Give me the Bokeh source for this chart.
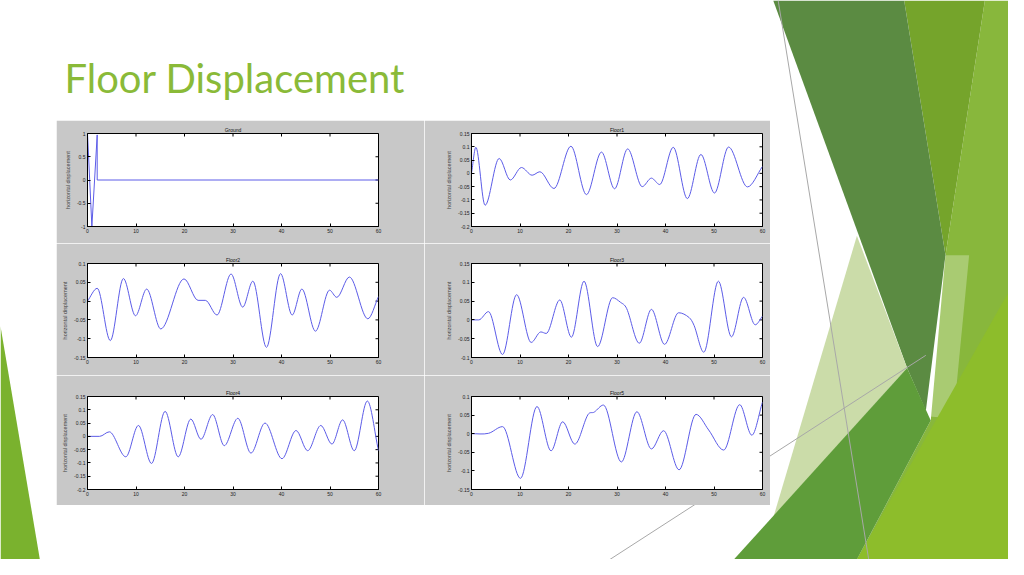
import math
from bokeh.plotting import figure
from bokeh.models import FixedTicker, CustomJSTickFormatter, Range1d
from bokeh.layouts import column, row
from bokeh.embed import file_html
from bokeh.resources import INLINE
from bokeh.core.properties import value

# ---------------- data ----------------
SLIDE_TITLE = "Floor Displacement"
Y_LABEL = "horizontal displacement"
X_TICKS = [0, 10, 20, 30, 40, 50, 60]

ground_t = [0, 0.9, 2.0, 2.0, 60]
ground_y = [1.0, -1.0, 0.97, 0.0, 0.0]

floor1_t = [0, 0.9, 2.8, 5.7, 8.0, 10.3, 12.5, 14.1, 17.0, 20.5, 23.7, 26.8, 29.5, 32.2, 35.2,
            37.1, 38.8, 41.6, 44.5, 47.3, 50.1, 53.0, 56.9, 60]
floor1_y = [0.0, 0.098, -0.12, 0.056, -0.025, 0.022, -0.007, 0.006, -0.057, 0.102, -0.08, 0.08,
            -0.058, 0.092, -0.05, -0.018, -0.042, 0.098, -0.095, 0.071, -0.074, 0.099, -0.051, 0.026]

floor2_t = [0, 2.0, 4.7, 7.4, 9.9, 12.2, 15.1, 19.9, 22.8, 24.3, 26.7, 29.6, 32.0, 34.1, 36.9,
            39.8, 42.2, 44.2, 47.0, 49.9, 51.4, 54.0, 57.8, 60]
floor2_y = [0.0, 0.034, -0.105, 0.06, -0.039, 0.032, -0.074, 0.059, 0.002, 0.002, -0.037, 0.072,
            -0.016, 0.053, -0.123, 0.073, -0.037, 0.032, -0.08, 0.029, 0.01, 0.064, -0.047, 0.012]

floor3_t = [0, 1.5, 3.5, 6.4, 9.3, 12.3, 14.3, 15.4, 18.2, 20.6, 23.2, 26.0, 29.1, 30.7, 32.0,
            34.6, 37.1, 39.8, 42.7, 44.9, 45.9, 47.9, 50.9, 53.6, 56.1, 58.5, 60]
floor3_y = [0.0, 0.0, 0.022, -0.092, 0.067, -0.06, -0.032, -0.036, 0.053, -0.046, 0.103, -0.071,
            0.059, 0.047, 0.03, -0.062, 0.028, -0.065, 0.019, 0.006, -0.015, -0.086, 0.103, -0.045,
            0.06, -0.013, 0.01]

floor4_t = [0, 2.5, 4.5, 7.9, 10.5, 13.2, 16.0, 18.7, 21.3, 23.4, 25.8, 28.2, 31.0, 33.7, 36.6,
            40.1, 43.0, 45.4, 48.1, 50.4, 52.6, 55.0, 57.7, 60]
floor4_y = [0.0, 0.0, 0.017, -0.077, 0.041, -0.102, 0.094, -0.077, 0.065, -0.011, 0.082, -0.035,
            0.068, -0.063, 0.05, -0.084, 0.022, -0.054, 0.041, -0.029, 0.062, -0.054, 0.133, -0.054]

floor5_t = [0, 3.5, 6.4, 10.1, 13.5, 16.4, 18.8, 21.3, 24.0, 25.3, 27.2, 30.9, 34.1, 37.1, 39.6,
            42.8, 46.3, 48.9, 52.0, 55.3, 57.8, 60]
floor5_y = [0.0, 0.001, 0.019, -0.12, 0.073, -0.046, 0.032, -0.028, 0.051, 0.058, 0.077, -0.076,
            0.059, -0.041, 0.008, -0.097, 0.052, 0.01, -0.044, 0.078, -0.004, 0.085]

panel_names = ["Ground", "Floor1", "Floor2", "Floor3", "Floor4", "Floor5"]
y_ranges = [(-1, 1), (-0.2, 0.15), (-0.15, 0.1), (-0.1, 0.15), (-0.2, 0.15), (-0.15, 0.1)]
y_ticks = [
    [-1, -0.5, 0, 0.5, 1],
    [-0.2, -0.15, -0.1, -0.05, 0, 0.05, 0.1, 0.15],
    [-0.15, -0.1, -0.05, 0, 0.05, 0.1],
    [-0.1, -0.05, 0, 0.05, 0.1, 0.15],
    [-0.2, -0.15, -0.1, -0.05, 0, 0.05, 0.1, 0.15],
    [-0.15, -0.1, -0.05, 0, 0.05, 0.1],
]
series_t = [ground_t, floor1_t, floor2_t, floor3_t, floor4_t, floor5_t]
series_y = [ground_y, floor1_y, floor2_y, floor3_y, floor4_y, floor5_y]

# slide decoration shapes (slide pixel coordinates, 1024 x 575 slide)
deco_shapes = [
    ([0, 40, 0], [335, 575, 575], "#7ab22e", 1.0),
    ([1000, 1024, 1024, 870, 945, 960], [0, 0, 575, 575, 432, 262], "#88b73c", 1.0),
    ([918, 1000, 960], [0, 0, 262], "#75a42b", 1.0),
    ([785, 918, 960, 940, 921], [0, 0, 262, 422, 378], "#5b8b42", 1.0),
    ([870, 921, 785], [242, 378, 532], "#cbdca9", 1.0),
    ([960, 984, 968, 944], [262, 262, 430, 428], "#ffffff", 0.28),
    ([745, 921, 945, 870], [575, 378, 432, 575], "#5f9d3a", 1.0),
    ([1024, 1024, 870], [300, 575, 575], "#8dbd2b", 1.0),
]
deco_lines = [
    ([790, 882], [0, 575]),
    ([619, 940], [575, 365]),
]

GRAY = "#c8c8c8"
BLUE = "#5c5ce8"
FONT = "Liberation Sans"

# ---------------- background slide ----------------
bg = figure(width=1008, height=559, x_range=Range1d(0, 1024), y_range=Range1d(575, 0),
            output_backend="svg", toolbar_location=None, min_border=0)
bg.axis.visible = False
bg.grid.visible = False
bg.outline_line_color = None
bg.background_fill_color = "white"
bg.border_fill_color = "white"
for xs, ys, col, a in deco_shapes:
    bg.patch(xs, ys, fill_color=col, fill_alpha=a, line_color=None)
for xs, ys in deco_lines:
    bg.line(xs, ys, line_color="#a8a8a8", line_width=1)
bg.text(x=[65], y=[80], text=[SLIDE_TITLE], text_font=value("Lato"),
        text_font_size="40px", text_color="#8aba38", text_baseline="middle")

# ---------------- MATLAB-like subplots ----------------
fmt = CustomJSTickFormatter(code="return String(Math.round(tick*1000)/1000);")


def style_axis(ax, ticks):
    ax.ticker = FixedTicker(ticks=ticks)
    ax.formatter = fmt
    ax.major_tick_in = 3
    ax.major_tick_out = 0
    ax.minor_tick_in = 0
    ax.minor_tick_out = 0
    ax.axis_line_color = "black"
    ax.major_tick_line_color = "black"
    ax.major_label_text_font = FONT
    ax.major_label_text_color = "#222222"
    ax.major_label_text_font_size = "5px"
    ax.major_label_standoff = 2


def smooth_segments(t, y):
    n = len(t)
    m = []
    for i in range(n):
        if i == 0:
            m.append((y[1] - y[0]) / (t[1] - t[0]))
        elif i == n - 1:
            m.append((y[-1] - y[-2]) / (t[-1] - t[-2]))
        else:
            d0 = (y[i] - y[i - 1]) / (t[i] - t[i - 1])
            d1 = (y[i + 1] - y[i]) / (t[i + 1] - t[i])
            m.append(0.0 if d0 * d1 <= 0 else (y[i + 1] - y[i - 1]) / (t[i + 1] - t[i - 1]))
    seg = dict(x0=[], y0=[], x1=[], y1=[], cx0=[], cy0=[], cx1=[], cy1=[])
    for i in range(n - 1):
        h = t[i + 1] - t[i]
        seg["x0"].append(t[i]); seg["y0"].append(y[i])
        seg["x1"].append(t[i + 1]); seg["y1"].append(y[i + 1])
        seg["cx0"].append(t[i] + h / 3); seg["cy0"].append(y[i] + m[i] * h / 3)
        seg["cx1"].append(t[i + 1] - h / 3); seg["cy1"].append(y[i + 1] - m[i + 1] * h / 3)
    return seg


FRAME_H = [93, 94, 93]
TOP_B = [13, 20, 21]
BOT_B = [17, 18, 16]
LEFT_B = [31, 47]
RIGHT_B = [46, 8]


def make_panel(i):
    col = i % 2
    r = i // 2
    name = panel_names[i]
    y0, y1 = y_ranges[i]
    p = figure(frame_width=291, frame_height=FRAME_H[r],
               min_border_left=LEFT_B[col], min_border_right=RIGHT_B[col],
               min_border_top=TOP_B[r], min_border_bottom=BOT_B[r],
               x_range=Range1d(0, 60), y_range=Range1d(y0, y1),
               output_backend="svg", toolbar_location=None, title=name)
    p.border_fill_color = GRAY
    p.background_fill_color = "white"
    p.outline_line_color = "black"
    p.grid.visible = False
    p.title.text_font = FONT
    p.title.text_font_size = "5px"
    p.title.text_font_style = "normal"
    p.title.align = "center"
    p.title.standoff = 2
    p.title.text_color = "#111111"
    style_axis(p.xaxis[0], X_TICKS)
    style_axis(p.yaxis[0], y_ticks[i])
    p.yaxis.axis_label = Y_LABEL
    p.yaxis.axis_label_text_font = FONT
    p.yaxis.axis_label_text_font_size = "5.5px"
    p.yaxis.axis_label_text_font_style = "normal"
    p.yaxis.axis_label_standoff = 3
    # mirrored inward ticks on the top and right edges of the box
    p.ray(x=X_TICKS, y=[y1] * len(X_TICKS), length=3, length_units="screen",
          angle=-math.pi / 2, line_color="black", line_width=1)
    p.ray(x=[60] * len(y_ticks[i]), y=y_ticks[i], length=3, length_units="screen",
          angle=math.pi, line_color="black", line_width=1)
    if i == 0:
        p.line(series_t[i], series_y[i], line_color=BLUE, line_width=1)
    else:
        p.bezier(line_color=BLUE, line_width=1, **smooth_segments(series_t[i], series_y[i]))
    return p


panels = [make_panel(i) for i in range(6)]
grid = column(row(panels[0], panels[1], spacing=0),
              row(panels[2], panels[3], spacing=0),
              row(panels[4], panels[5], spacing=0), spacing=0)
grid.margin = (120 - 559, 0, 0, 56)

root = column(bg, grid, spacing=0)
open("out.html", "w").write(file_html(root, INLINE))
